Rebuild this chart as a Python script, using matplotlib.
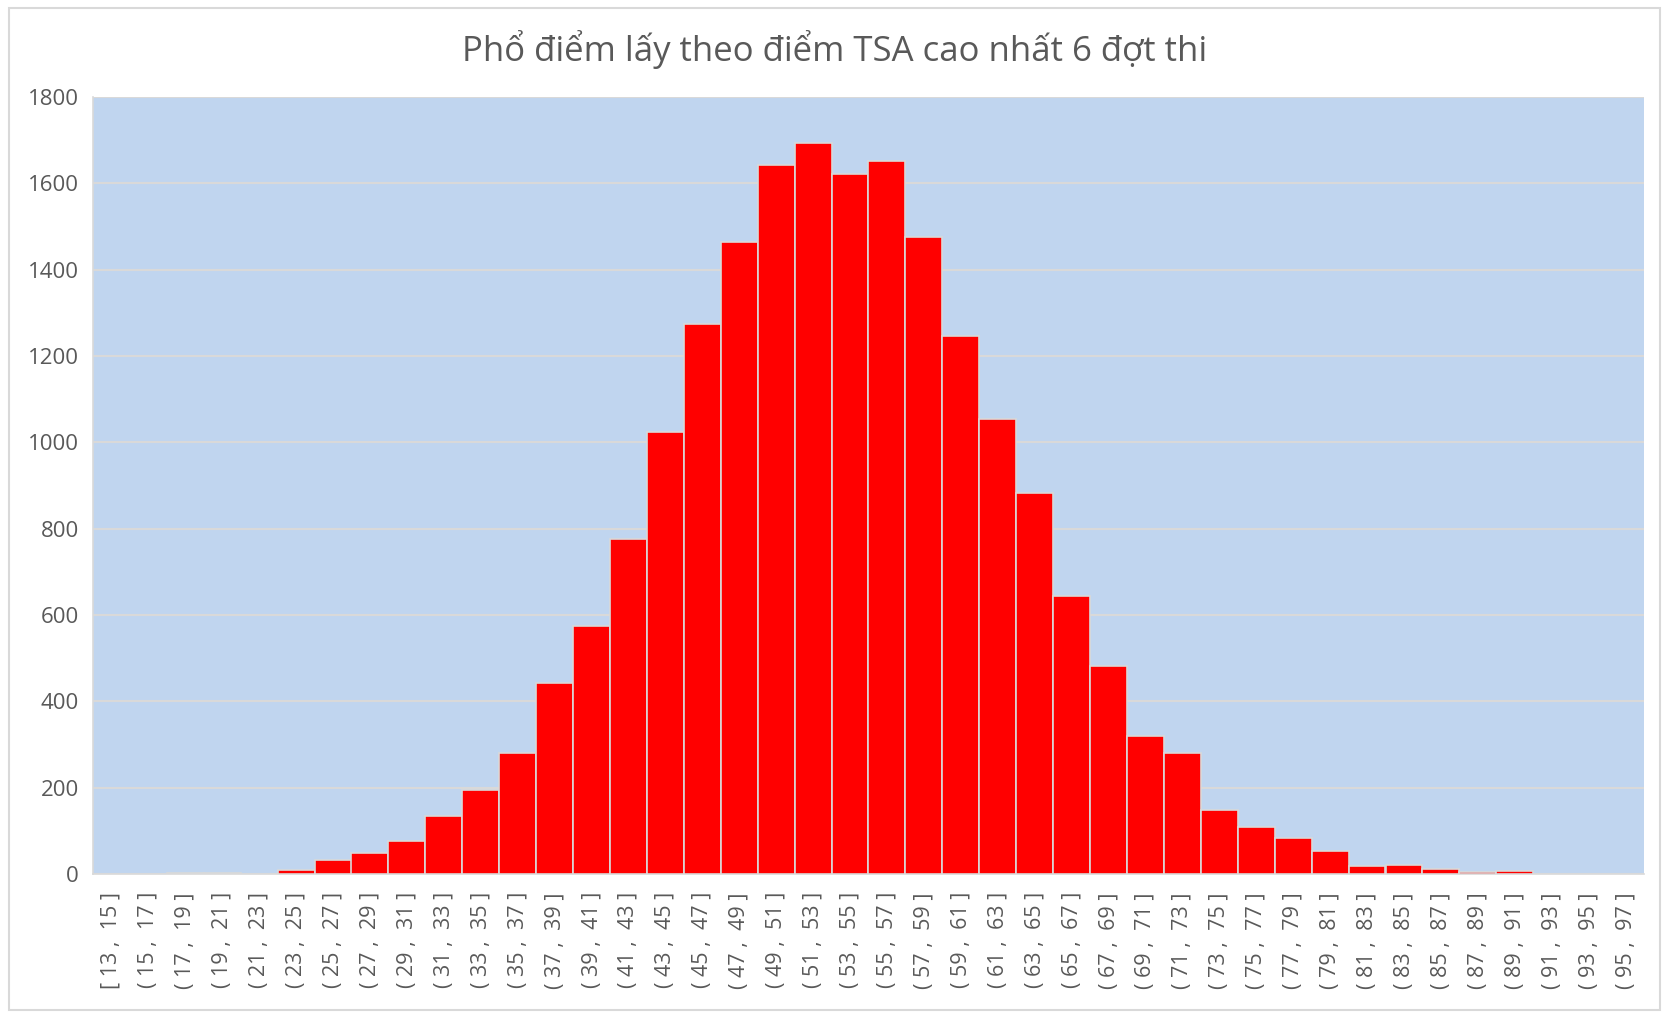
import matplotlib
matplotlib.use("Agg")
import matplotlib.pyplot as plt
from matplotlib.patches import Rectangle

title = "Phổ điểm lấy theo điểm TSA cao nhất 6 đợt thi"
bin_edges = list(range(13, 98, 2))
labels = ["[ 13 ,  15 ]"] + [f"( {a} ,  {a + 2} ]" for a in bin_edges[1:-1]]
counts = [0, 0, 3, 3, 0, 9, 32, 48, 76, 134,
          194, 281, 443, 574, 775, 1023, 1275, 1465, 1643, 1694,
          1621, 1652, 1475, 1246, 1053, 883, 643, 482, 319, 281,
          149, 108, 83, 54, 19, 22, 12, 4, 6, 0,
          0, 0]
yticks = [0, 200, 400, 600, 800, 1000, 1200, 1400, 1600, 1800]

FONT = ["Open Sans", "DejaVu Sans"]
plt.rcParams["font.family"] = FONT
TXT = "#595959"

fig = plt.figure(figsize=(16.74, 10.22), dpi=100)
fig.patch.set_facecolor("white")
W, H = 1674, 1022
ax = fig.add_axes([93 / W, 1 - 874 / H, (1644 - 93) / W, (874 - 97) / H])
ax.set_facecolor("#C0D5EF")

x = list(range(len(counts)))
ax.bar(x, counts, width=1.0, color="#FF0000", edgecolor="#D9D9D9", linewidth=1.2, zorder=3)
ax.set_xlim(-0.5, len(counts) - 0.5)
ax.set_ylim(0, 1800)
ax.set_yticks(yticks)
ax.set_yticklabels([str(v) for v in yticks], fontsize=16, color=TXT)
ax.set_xticks(x)
ax.set_xticklabels(labels, rotation=90, fontsize=15.5, color=TXT)
ax.tick_params(axis="both", length=0)
ax.tick_params(axis="x", pad=13)
ax.tick_params(axis="y", pad=10)
ax.grid(axis="y", color="#D9D9D9", linewidth=1.5, zorder=1)
ax.set_axisbelow(True)
for s in ["top", "right"]:
    ax.spines[s].set_visible(False)
for s in ["left", "bottom"]:
    ax.spines[s].set_color("#D9D9D9")
    ax.spines[s].set_linewidth(1.2)

fig.text(835 / W, 1 - 50 / H, title, ha="center", va="center", fontsize=25, color=TXT)

fig.patches.append(Rectangle((9 / W, 1 - 1010 / H), (1660 - 9) / W, (1010 - 8) / H,
                             transform=fig.transFigure, fill=False,
                             edgecolor="#D9D9D9", linewidth=1.5))

fig.savefig("out.png", dpi=100, facecolor="white")
